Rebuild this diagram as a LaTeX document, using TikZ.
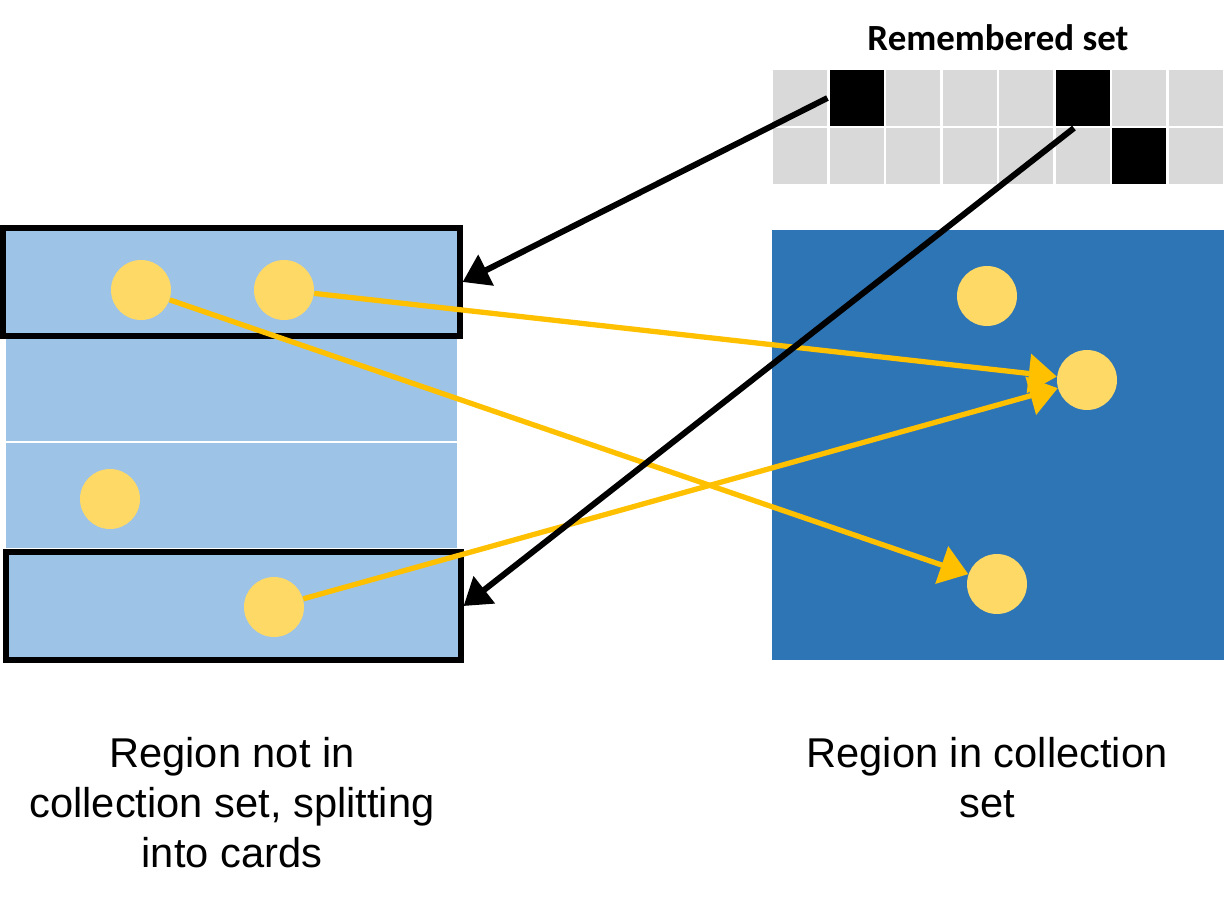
\documentclass[tikz,border=0pt]{standalone}
\usepackage{fontspec}
\setmainfont{Liberation Sans}
\newfontfamily\titlefont{Carlito}
\usetikzlibrary{positioning,arrows.meta}
\definecolor{cardblue}{HTML}{9DC3E6}
\definecolor{regionblue}{HTML}{2E75B6}
\definecolor{objyellow}{HTML}{FFD966}
\definecolor{refyellow}{HTML}{FFC000}
\definecolor{cellgray}{HTML}{D9D9D9}

\begin{document}
\begin{tikzpicture}[x=0.02cm, y=-0.02cm,
	card/.style = { rectangle, fill=cardblue, inner sep=0pt},
	dirty/.style = { draw=black, line width=3pt},
	obj/.style = { circle, fill=objyellow, minimum size=1.2cm, inner sep=0pt},
	cell/.style = { rectangle, fill=cellgray, draw=white, line width=1.2pt,
	minimum width=1.13cm, minimum height=1.16cm, inner sep=0pt},
	marked/.style = { fill=black},
	ref/.style = { draw=refyellow, line width=3pt,
	-{Triangle[length=16pt, width=22pt]}},
	rsref/.style = { draw=black, line width=3.4pt,
	-{Triangle[length=15pt, width=19pt]}},
	label/.style = { align=center, font=\fontsize{23.7}{28.4}\selectfont} ]

  \useasboundingbox (0,0) rectangle (1227,899);

  % region outside the collection set, cut into cards
  \node [name=card2, card, minimum width=9.02cm, minimum height=2.08cm]
	at (231.5,389) {};
  \node [name=card3, card, minimum width=9.02cm, minimum height=2.1cm]
	at (231.5,495.5) {};
  \node [name=card1, card, dirty, minimum width=9.14cm, minimum height=2.16cm]
	at (231.5,282) {};
  \node [name=card4, card, dirty, minimum width=9.1cm, minimum height=2.16cm]
	at (233.5,606) {};

  % region in the collection set
  \node [name=cset, rectangle, fill=regionblue, inner sep=0pt,
	minimum width=9.04cm, minimum height=8.6cm] at (998,445) {};

  % remembered set
  \foreach \r in {1,2} {
    \foreach \c in {1,...,8} {
      \node [name=c\r\c, cell] at ({772+28.25+(\c-1)*56.5},{98+(\r-1)*58}) {};
    }
  }
  \node [cell, marked] at (c12) {};
  \node [cell, marked] at (c16) {};
  \node [cell, marked] at (c27) {};
  \node [name=rstitle, font=\titlefont\bfseries\fontsize{21}{25}\selectfont]
	at (998,38) {Remembered set};

  % objects
  \node [name=a1, obj] at (141,290) {};
  \node [name=a2, obj] at (284,290) {};
  \node [name=a3, obj] at (110,499) {};
  \node [name=a4, obj] at (274,607) {};
  \node [name=t1, obj] at (987,296) {};
  \node [name=t2, obj] at (1087,380) {};
  \node [name=t3, obj] at (997,584) {};

  % references
  \draw [ref] (a2) -- (t2);
  \draw [ref] (a1) -- (t3);
  \draw [ref] (a4) -- (t2);

  % remembered set entries pointing to cards
  \draw [rsref] (c12.west) -- (card1.east);
  \draw [rsref] ([xshift=-5]c16.south) -- (card4.east);

  % labels
  \node [name=leftlabel, label] at (232,803)
	{Region not in\\collection set, splitting\\into cards};
  \node [name=rightlabel, label] at (987,778)
	{Region in collection\\set};
\end{tikzpicture}
\end{document}
